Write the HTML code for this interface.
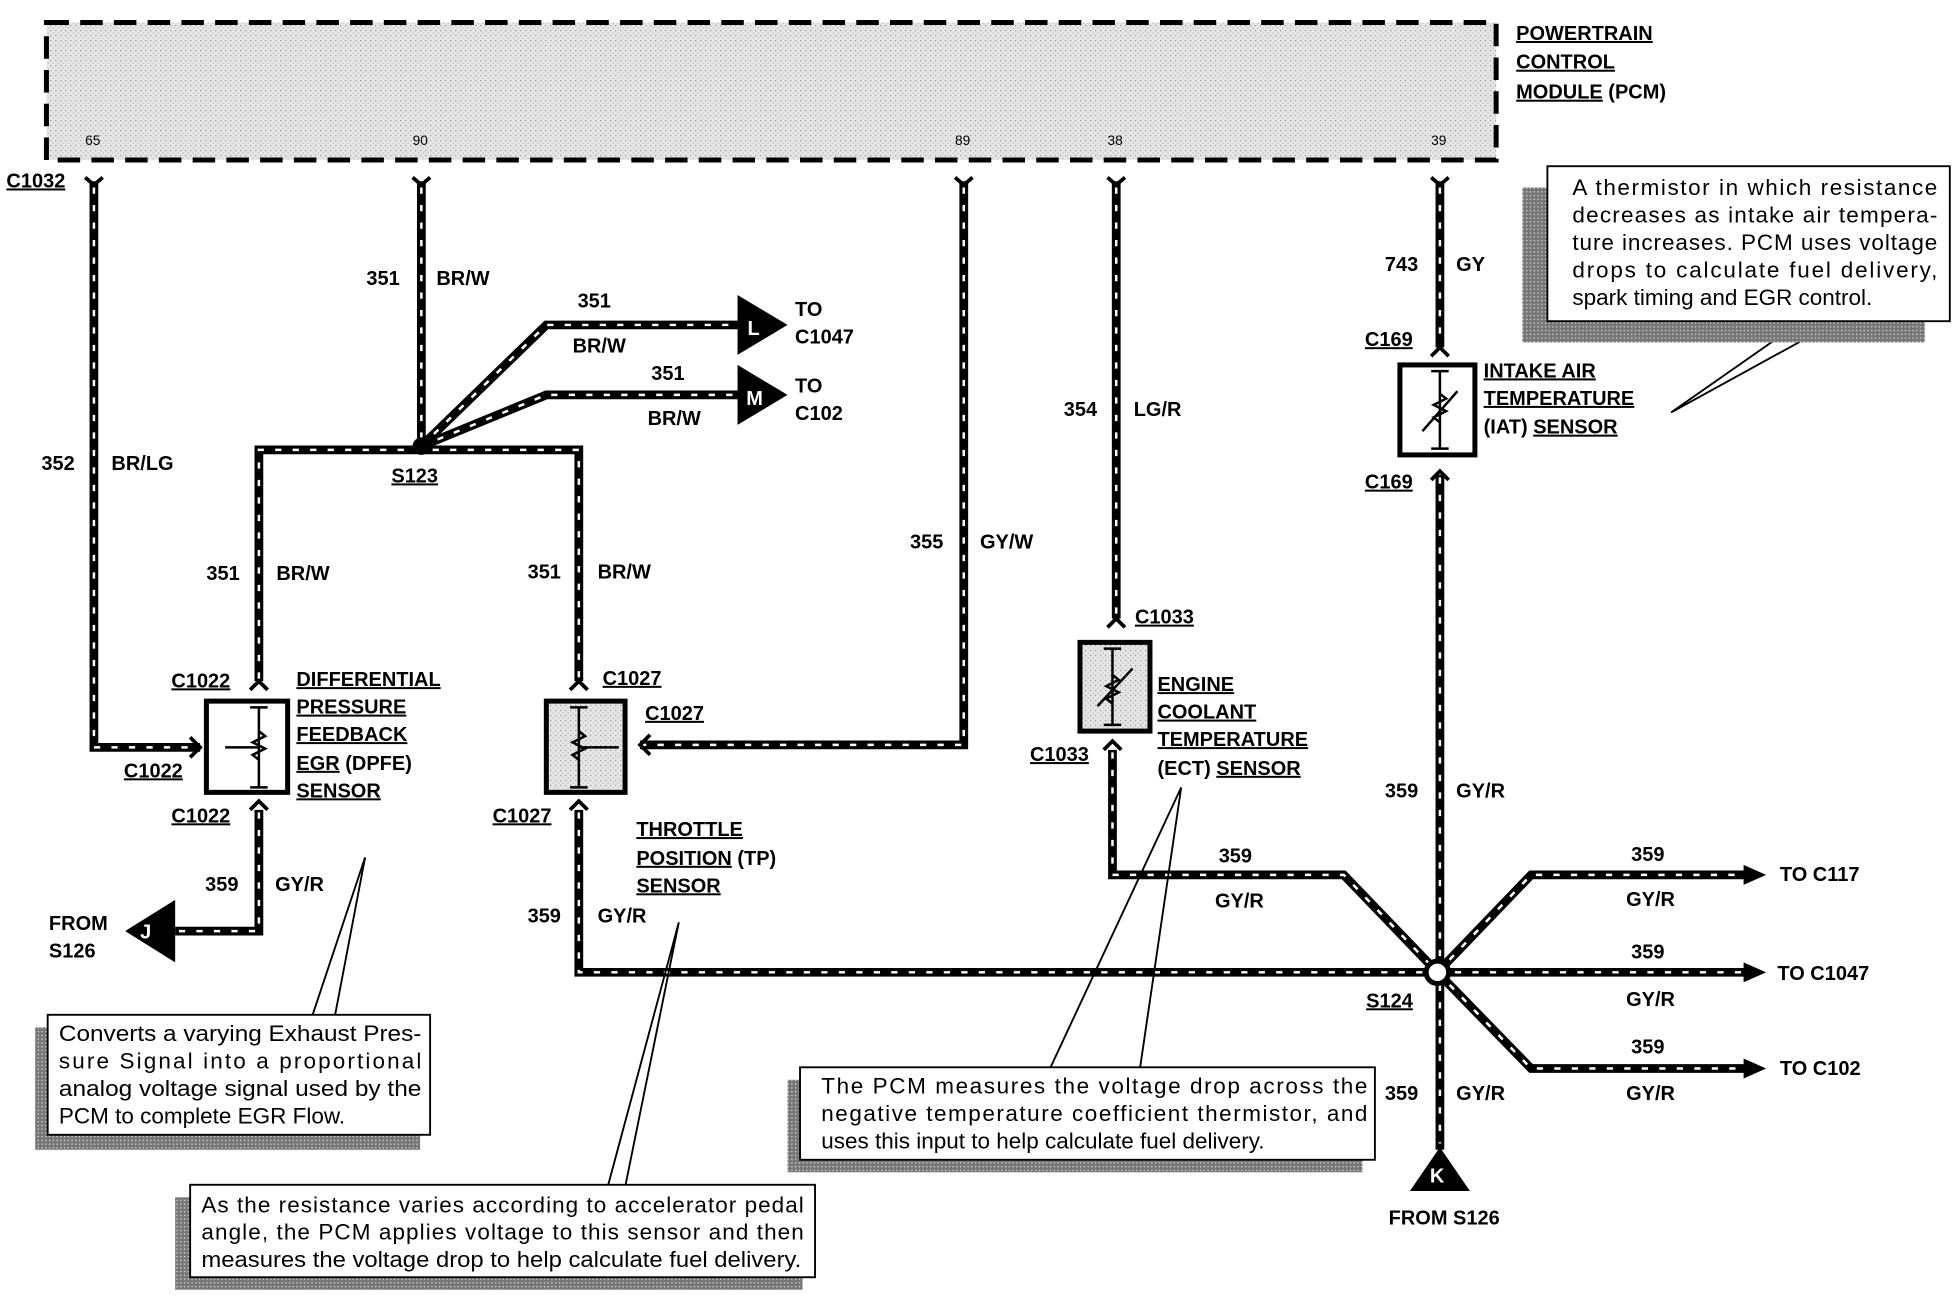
<!DOCTYPE html>
<html><head><meta charset="utf-8"><style>
html,body{margin:0;padding:0;background:#fff;}
svg{display:block;}
text{font-family:"Liberation Sans",Arial,sans-serif;fill:#000;}
.b{font-weight:bold;font-size:16px;}
.u{text-decoration:underline;}
.s{font-size:11px;}
.c{font-size:18px;}
</style></head><body>
<svg width="1960" height="1296" viewBox="0 0 1568 1037" xmlns="http://www.w3.org/2000/svg">
<defs>
<pattern id="st" width="4" height="4" patternUnits="userSpaceOnUse"><rect width="4" height="4" fill="#e6e6e6"/><rect x="0" y="0" width="1" height="1" fill="#999"/><rect x="2" y="2" width="1" height="1" fill="#bbb"/></pattern>
<pattern id="sh" width="3" height="3" patternUnits="userSpaceOnUse"><rect width="3" height="3" fill="#777"/><rect width="1" height="1" fill="#ddd"/></pattern>
</defs>
<rect x="37" y="18" width="1160" height="110" fill="url(#st)" stroke="#000" stroke-width="4" stroke-dasharray="18,9"/>
<text class="s" x="68" y="116">65</text><text class="s" x="330" y="116">90</text><text class="s" x="764" y="116">89</text><text class="s" x="886" y="116">38</text><text class="s" x="1145" y="116">39</text>
<text class="b u" x="1213" y="32">POWERTRAIN</text><text class="b u" x="1213" y="55">CONTROL</text><text class="b" x="1213" y="79"><tspan class="u">MODULE</tspan> (PCM)</text>
<g fill="none" stroke-linejoin="miter">
<g stroke="#000" stroke-width="7">
<path d="M75,145V598H160"/>
<path d="M337,145V357"/>
<path d="M207,545V360H463V545"/>
<path d="M337,357L437,260H590"/>
<path d="M337,357L437,316H590"/>
<path d="M771,145V596H512"/>
<path d="M893,145V495"/>
<path d="M890,600V700H1075L1150,778"/>
<path d="M1152,145V278"/>
<path d="M1152,380V920"/>
<path d="M463,648V778H1150"/>
<path d="M207,648V745H140"/>
<path d="M1150,778L1225,700H1400"/>
<path d="M1150,778H1400"/>
<path d="M1150,778L1225,855H1400"/>
</g>
<g stroke="#fff" stroke-width="2" stroke-dasharray="5,9">
<path d="M75,150V598H158"/><path d="M337,150V355"/><path d="M207,543V360H463V543"/>
<path d="M337,357L437,260H588"/><path d="M337,357L437,316H588"/>
<path d="M771,150V596H514"/><path d="M893,150V493"/><path d="M890,602V700H1075L1150,778"/>
<path d="M1152,150V276"/><path d="M1152,382V915"/><path d="M463,650V778H1148"/><path d="M207,650V745H142"/>
<path d="M1150,778L1225,700H1398"/><path d="M1150,778H1398"/><path d="M1150,778L1225,855H1398"/>
</g>
</g>
<g fill="none" stroke="#000" stroke-width="3">
<path d="M68,142l7,6l7,-6"/><path d="M330,142l7,6l7,-6"/><path d="M764,142l7,6l7,-6"/><path d="M886,142l7,6l7,-6"/><path d="M1145,142l7,6l7,-6"/>
<path d="M200,552l7,-7l7,7"/><path d="M200,648l7,-7l7,7"/><path d="M456,552l7,-7l7,7"/><path d="M456,648l7,-7l7,7"/>
<path d="M886,502l7,-7l7,7"/><path d="M883,600l7,-7l7,7"/><path d="M1145,285l7,-7l7,7"/><path d="M1145,384l7,-7l7,7"/>
<path d="M152,590l8,8l-8,8"/><path d="M520,588l-8,8l8,8"/>
</g>
<circle cx="337" cy="357" r="7" fill="#000"/><circle cx="1150" cy="778" r="9" fill="#fff" stroke="#000" stroke-width="4"/>
<path d="M1395,692l18,8l-18,8z M1395,770l18,8l-18,8z M1395,847l18,8l-18,8z" fill="#000"/>
<path d="M590,236V284L630,260Z M590,292V340L630,316Z" fill="#000"/>
<text class="b" x="598" y="268" style="fill:#fff">L</text><text class="b" x="597" y="324" style="fill:#fff">M</text>
<path d="M100,745L140,720V770Z" fill="#000"/><text class="b" x="112" y="751" style="fill:#fff">J</text>
<path d="M1128,953L1152,918L1176,953Z" fill="#000"/><text class="b" x="1144" y="946" style="fill:#fff">K</text>
<rect x="165" y="561" width="65" height="73" fill="#fff" stroke="#000" stroke-width="4"/>
<rect x="437" y="561" width="63" height="73" fill="url(#st)" stroke="#000" stroke-width="4"/>
<rect x="864" y="514" width="56" height="71" fill="url(#st)" stroke="#000" stroke-width="4"/>
<rect x="1120" y="292" width="60" height="72" fill="#fff" stroke="#000" stroke-width="4"/>
<g stroke="#000" stroke-width="2" fill="none">
<path d="M207,566V630M200,566h14M200,630h14M180,598h27M207,585l5,4l-10,5l10,5l-10,5l5,4"/>
<path d="M463,566V630M456,566h14M456,630h14M463,598h32M463,585l5,4l-10,5l10,5l-10,5l5,4"/>
<path d="M890,519V580M883,519h14M883,580h14M890,540l5,4l-10,5l10,5l-10,5l5,4M878,565l28,-30"/>
<path d="M1152,297V359M1145,297h14M1145,359h14M1152,315l5,4l-10,5l10,5l-10,5l5,4M1138,345l28,-32"/>
</g>
<g class="b">
<text class="b u" x="5" y="150">C1032</text>
<text class="b" x="293" y="228">351</text><text class="b" x="349" y="228">BR/W</text>
<text class="b" x="462" y="246">351</text><text class="b" x="458" y="282">BR/W</text>
<text class="b" x="521" y="304">351</text><text class="b" x="518" y="340">BR/W</text>
<text class="b" x="636" y="253">TO</text><text class="b" x="636" y="275">C1047</text>
<text class="b" x="636" y="314">TO</text><text class="b" x="636" y="336">C102</text>
<text class="b" x="33" y="376">352</text><text class="b" x="89" y="376">BR/LG</text>
<text class="b u" x="313" y="386">S123</text>
<text class="b" x="165" y="464">351</text><text class="b" x="221" y="464">BR/W</text>
<text class="b" x="422" y="463">351</text><text class="b" x="478" y="463">BR/W</text>
<text class="b" x="728" y="439">355</text><text class="b" x="784" y="439">GY/W</text>
<text class="b" x="851" y="333">354</text><text class="b" x="907" y="333">LG/R</text>
<text class="b" x="1108" y="217">743</text><text class="b" x="1165" y="217">GY</text>
<text class="b u" x="1092" y="277">C169</text><text class="b u" x="1092" y="391">C169</text>
<text class="b u" x="1187" y="302">INTAKE AIR</text><text class="b u" x="1187" y="324">TEMPERATURE</text>
<text class="b" x="1187" y="347">(IAT) <tspan class="u">SENSOR</tspan></text>
<text class="b u" x="908" y="499">C1033</text><text class="b u" x="824" y="609">C1033</text>
<text class="b u" x="926" y="553">ENGINE</text><text class="b u" x="926" y="575">COOLANT</text><text class="b u" x="926" y="597">TEMPERATURE</text>
<text class="b" x="926" y="620">(ECT) <tspan class="u">SENSOR</tspan></text>
<text class="b u" x="137" y="550">C1022</text><text class="b u" x="99" y="622">C1022</text><text class="b u" x="137" y="658">C1022</text>
<text class="b u" x="237" y="549">DIFFERENTIAL</text><text class="b u" x="237" y="571">PRESSURE</text><text class="b u" x="237" y="593">FEEDBACK</text>
<text class="b" x="237" y="616"><tspan class="u">EGR</tspan> (DPFE)</text><text class="b u" x="237" y="638">SENSOR</text>
<text class="b u" x="482" y="548">C1027</text><text class="b u" x="516" y="576">C1027</text><text class="b u" x="394" y="658">C1027</text>
<text class="b u" x="509" y="669">THROTTLE</text><text class="b" x="509" y="692"><tspan class="u">POSITION</tspan> (TP)</text><text class="b u" x="509" y="714">SENSOR</text>
<text class="b" x="164" y="713">359</text><text class="b" x="220" y="713">GY/R</text>
<text class="b" x="39" y="744">FROM</text><text class="b" x="39" y="766">S126</text>
<text class="b" x="422" y="738">359</text><text class="b" x="478" y="738">GY/R</text>
<text class="b" x="975" y="690">359</text><text class="b" x="972" y="726">GY/R</text>
<text class="b" x="1108" y="638">359</text><text class="b" x="1165" y="638">GY/R</text>
<text class="b" x="1305" y="689">359</text><text class="b" x="1301" y="725">GY/R</text>
<text class="b" x="1305" y="767">359</text><text class="b" x="1301" y="805">GY/R</text>
<text class="b" x="1305" y="843">359</text><text class="b" x="1301" y="880">GY/R</text>
<text class="b" x="1424" y="705">TO C117</text><text class="b" x="1422" y="784">TO C1047</text><text class="b" x="1424" y="860">TO C102</text>
<text class="b u" x="1093" y="806">S124</text>
<text class="b" x="1108" y="880">359</text><text class="b" x="1165" y="880">GY/R</text>
<text class="b" x="1111" y="980">FROM S126</text>
</g>
<g stroke="#000" stroke-width="1.5" fill="none">
<path d="M250,812L292,686M268,812L292,686"/>
<path d="M486,950L543,738M500,950L543,738"/>
<path d="M840,855L945,630M912,855L945,630"/>
<path d="M1337,330L1450,268M1337,330L1440,258"/>
</g>
<rect x="28" y="822" width="308" height="98" fill="url(#sh)"/>
<rect x="38" y="812" width="306" height="96" fill="#fff" stroke="#000" stroke-width="1.5"/>
<text class="c" x="47" y="833" textLength="290" lengthAdjust="spacingAndGlyphs">Converts a varying Exhaust Pres-</text>
<text class="c" x="47" y="855" textLength="290" lengthAdjust="spacing">sure Signal into a proportional</text>
<text class="c" x="47" y="877" textLength="290" lengthAdjust="spacingAndGlyphs">analog voltage signal used by the</text>
<text class="c" x="47" y="899">PCM to complete EGR Flow.</text>
<rect x="140" y="958" width="502" height="74" fill="url(#sh)"/>
<rect x="152" y="948" width="500" height="74" fill="#fff" stroke="#000" stroke-width="1.5"/>
<text class="c" x="161" y="970" textLength="482" lengthAdjust="spacing">As the resistance varies according to accelerator pedal</text>
<text class="c" x="161" y="992" textLength="482" lengthAdjust="spacing">angle, the PCM applies voltage to this sensor and then</text>
<text class="c" x="161" y="1014" textLength="480" lengthAdjust="spacingAndGlyphs">measures the voltage drop to help calculate fuel delivery.</text>
<rect x="630" y="864" width="460" height="74" fill="url(#sh)"/>
<rect x="640" y="854" width="460" height="74" fill="#fff" stroke="#000" stroke-width="1.5"/>
<text class="c" x="657" y="875" textLength="437" lengthAdjust="spacing">The PCM measures the voltage drop across the</text>
<text class="c" x="657" y="897" textLength="437" lengthAdjust="spacing">negative temperature coefficient thermistor, and</text>
<text class="c" x="657" y="919">uses this input to help calculate fuel delivery.</text>
<rect x="1218" y="150" width="322" height="124" fill="url(#sh)"/>
<rect x="1238" y="133" width="322" height="124" fill="#fff" stroke="#000" stroke-width="1.5"/>
<text class="c" x="1258" y="156" textLength="292" lengthAdjust="spacing">A thermistor in which resistance</text>
<text class="c" x="1258" y="178" textLength="292" lengthAdjust="spacing">decreases as intake air tempera-</text>
<text class="c" x="1258" y="200" textLength="292" lengthAdjust="spacing">ture increases. PCM uses voltage</text>
<text class="c" x="1258" y="222" textLength="292" lengthAdjust="spacing">drops to calculate fuel delivery,</text>
<text class="c" x="1258" y="244">spark timing and EGR control.</text>
</svg>
</body></html>
